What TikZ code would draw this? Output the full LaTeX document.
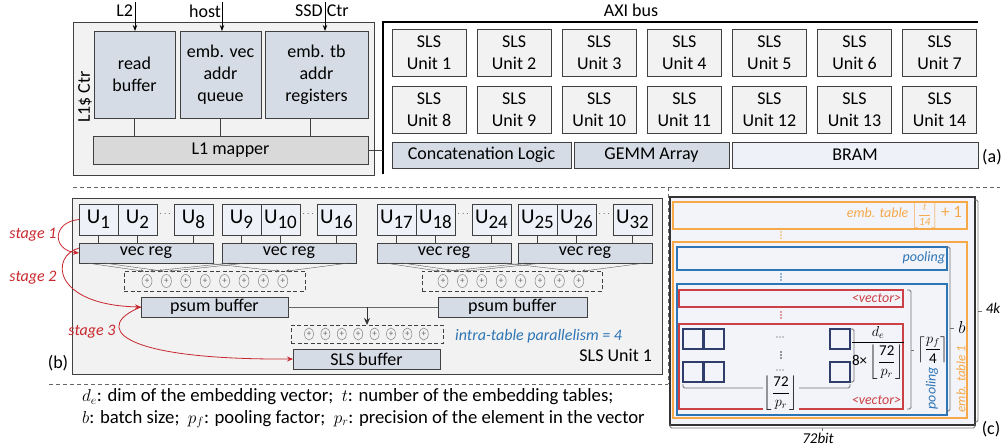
\documentclass[tikz,border=0pt]{standalone}
\usepackage{amsmath}
\usepackage{fontspec}
\setmainfont{Carlito}
\usetikzlibrary{arrows.meta,shapes.geometric,calc}
\definecolor{pgray}{HTML}{F2F2F2}
\definecolor{bgray}{HTML}{D6DCE5}
\definecolor{mgray}{HTML}{D9D9D9}
\definecolor{lblue}{HTML}{EEF1F7}
\definecolor{cfill}{HTML}{F3F4F9}
\definecolor{redc}{HTML}{C8282D}
\definecolor{bluec}{HTML}{2E75B6}
\definecolor{orangec}{HTML}{F5A94A}
\definecolor{redbox}{HTML}{CC4146}
\definecolor{navy}{HTML}{2F3D6B}
\definecolor{edge}{HTML}{404040}
\newcommand\Ulab[1]{{\fontsize{21}{21}\selectfont U}\raisebox{-5pt}{\fontsize{19}{19}\selectfont #1}}
\begin{document}
\begin{tikzpicture}[x=1pt,y=-1pt,
  txt/.style={inner sep=0pt, outer sep=0pt, font=\fontsize{18}{22}\selectfont, align=center},
  blk/.style={draw=edge, line width=1pt, anchor=north west, inner sep=0pt, outer sep=0pt, align=center, font=\fontsize{18}{22}\selectfont},
  dbox/.style={draw=edge, line width=1pt, dash pattern=on 4pt off 2.5pt, anchor=north west, inner sep=0pt, outer sep=0pt},
  addc/.style={ellipse, draw=black!50, line width=0.5pt, minimum width=10pt, minimum height=13pt, inner sep=0pt, font=\fontsize{9}{9}\selectfont, text=black!60},
  saddc/.style={addc, minimum width=9pt, minimum height=12pt},
  conn/.style={draw=edge, line width=0.8pt},
  inarr/.style={draw=black, line width=0.8pt, -{Stealth[length=6pt,width=4.5pt]}},
  fan/.style={draw=black!65, line width=0.4pt, -{Stealth[length=3.5pt,width=3pt]}},
  stagearr/.style={draw=redc, line width=0.8pt, -{Stealth[length=6pt,width=5pt]}},
  stagelbl/.style={text=redc, font=\fontsize{16}{16}\selectfont\itshape, inner sep=0pt},
  sep/.style={draw=black!60, line width=0.9pt, dash pattern=on 4pt off 3pt},
  brk/.style={draw=black!55, line width=0.8pt, rounded corners=1.5pt},
  cbox/.style={line width=1.4pt, anchor=north west, inner sep=0pt, outer sep=0pt},
  ctxt/.style={inner sep=0pt, outer sep=0pt, font=\fontsize{14}{16}\selectfont},
  dotn/.style={inner sep=0pt, outer sep=0pt, font=\fontsize{10}{10}\selectfont},
  sq/.style={draw=navy, line width=1.4pt, minimum size=20pt, anchor=north west, inner sep=0pt, outer sep=0pt}
]
\useasboundingbox (0,0) rectangle (1003,447);

% ---------------- panel (a) ----------------
\node[blk, fill=pgray, minimum width=301pt, minimum height=153pt] (l1ctr) at (73,22) {};
\node[txt, rotate=90] (l1lab) at (85,97) {L1\$ Ctr};
\node[blk, fill=bgray, minimum width=81pt, minimum height=87pt] (rbuf) at (94,31) {read\\buffer};
\node[blk, fill=bgray, minimum width=81pt, minimum height=87pt] (evq) at (180,31) {emb. vec\\addr\\queue};
\node[blk, fill=bgray, minimum width=103pt, minimum height=87pt] (etr) at (265,31) {emb. tb\\addr\\registers};
\node[blk, fill=mgray, minimum width=275pt, minimum height=28pt] (map) at (93,136) {L1 mapper};
\draw[conn] (rbuf.south) -- (rbuf.south |- map.north);
\draw[conn] (evq.south) -- (evq.south |- map.north);
\draw[conn] ($(etr.south)+(-6,0)$) -- ($(etr.south |- map.north)+(-6,0)$);

\coordinate (inL2) at (135,2);
\coordinate (inHost) at (222,2);
\coordinate (inSSD) at (325,2);
\draw[inarr] (inL2) -- (inL2 |- rbuf.north);
\draw[inarr] (inHost) -- (inHost |- evq.north);
\draw[inarr] (inSSD) -- (inSSD |- etr.north);
\node[txt, anchor=east] (labL2) at (133,11) {L2};
\node[txt, anchor=east] (labHost) at (221,11) {host};
\node[txt] (labSSD) at (322,11) {SSD Ctr};

\coordinate (axiB) at (383,174);
\coordinate (axiC) at (383,22);
\coordinate (axiR) at (978,22);
\draw[line width=2.4pt, draw=black] (axiB) -- (axiC) -- (axiR);
\node[txt] (axilab) at (631,10) {AXI bus};
\draw[conn] (map.east) -- (map.east -| axiC);

\foreach \i in {0,...,6}{
  \pgfmathtruncatemacro\na{\i+1}
  \pgfmathtruncatemacro\nb{\i+8}
  \node[blk, fill=pgray, minimum width=74pt, minimum height=47pt] (sls\na) at ({392+85.1*\i},29) {SLS\\Unit \na};
  \node[blk, fill=pgray, minimum width=74pt, minimum height=47pt] (sls\nb) at ({392+85.1*\i},86) {SLS\\Unit \nb};
}
\node[blk, fill=bgray, minimum width=179pt, minimum height=26pt] (concat) at (392,142) {Concatenation Logic};
\node[blk, fill=bgray, minimum width=155pt, minimum height=26pt] (gemm) at (574,142) {GEMM Array};
\node[blk, fill=lblue, minimum width=246pt, minimum height=26pt] (bram) at (732,142) {BRAM};
\node[txt] (alab) at (992,157) {(a)};

% ---------------- separators ----------------
\coordinate (s1a) at (73,187);
\coordinate (s1b) at (1000,187);
\coordinate (s2a) at (668,187);
\coordinate (s2b) at (668,384);
\coordinate (s3a) at (49,384);
\draw[sep] (s1a) -- (s1b);
\draw[sep] (s2a) -- (s2b);
\draw[sep] (s3a) -- (s2b);

% ---------------- panel (b) ----------------
\node[blk, fill=pgray, minimum width=590pt, minimum height=176pt] (bpan) at (72,198) {};
\foreach \s/\a/\b/\c/\g in {79/1/2/8/1, 222/9/10/16/2, 377/17/18/24/3, 518/25/26/32/4}{
  \node[blk, fill=lblue, minimum width=39pt, minimum height=31pt] (u\a) at (\s,204) {\Ulab{\a}};
  \node[blk, fill=lblue, minimum width=39pt, minimum height=31pt] (u\b) at (\s+39,204) {\Ulab{\b}};
  \node[dotn, text=black!70] (ud\g) at (\s+87,214) {$\cdots$};
  \node[blk, fill=lblue, minimum width=39pt, minimum height=31pt] (u\c) at (\s+95,204) {\Ulab{\c}};
  \node[blk, fill=bgray, minimum width=134pt, minimum height=20pt] (vr\g) at (\s,243) {vec reg};
  \draw[conn] (u\a.south) -- (u\a.south |- vr\g.north);
  \draw[conn] (u\b.south) -- (u\b.south |- vr\g.north);
  \draw[conn] (u\c.south) -- (u\c.south |- vr\g.north);
}
\node[dbox, minimum width=181pt, minimum height=20pt] (adA) at (124,271) {};
\node[dbox, minimum width=180pt, minimum height=20pt] (adB) at (422,271) {};
\foreach \k in {1,...,8}{
  \node[addc] (ca\k) at ({147+19.4*(\k-1)},281) {+};
  \node[addc] (cb\k) at ({443+19.4*(\k-1)},281) {+};
}
\foreach \v/\c/\dx/\sx in {vr1/ca1/8/-3, vr1/ca2/25/-3, vr1/ca8/127/-3, vr2/ca1/8/3, vr2/ca2/25/3, vr2/ca8/127/3,
                           vr3/cb1/8/-3, vr3/cb2/25/-3, vr3/cb8/127/-3, vr4/cb1/8/3, vr4/cb2/25/3, vr4/cb8/127/3}{
  \draw[fan] ($(\v.south west)+(\dx,0)$) -- ($(\c.north)+(\sx,-3)$);
}
\node[blk, fill=bgray, minimum width=147pt, minimum height=20pt] (psum1) at (141,297) {psum buffer};
\node[blk, fill=bgray, minimum width=149pt, minimum height=20pt] (psum2) at (438,297) {psum buffer};
\draw[conn, draw=black!60] (psum1.east) -- (psum2.west);
\node[dbox, minimum width=152pt, minimum height=18pt] (sadd) at (291,325) {};
\foreach \k in {1,...,8}{
  \node[saddc] (cs\k) at ({309+16.4*(\k-1)},334) {+};
}
\coordinate (pmid) at (367,307);
\draw[draw=black!80, line width=0.8pt, -{Stealth[length=7pt,width=6pt]}] (pmid) -- (pmid |- sadd.north);
\node[blk, fill=bgray, minimum width=147pt, minimum height=20pt] (sbuf) at (293,349) {SLS buffer};
\node[inner sep=0pt, anchor=west, text=bluec, font=\fontsize{16}{16}\selectfont\itshape] (itp) at (455,336) {intra-table parallelism = 4};
\node[txt, anchor=east] (unitlab) at (652,355) {SLS Unit 1};
\node[txt] (blab) at (58,363) {(b)};

\node[stagelbl] (st1) at (33,235) {stage 1};
\node[stagelbl] (st2) at (33,278) {stage 2};
\node[stagelbl] (st3) at (92,332) {stage 3};
\draw[stagearr] (u1.west) .. controls (52,222) and (52,250) .. (vr1.west);
\draw[stagearr] ($(vr1.west)+(0,-5)$) .. controls (50,256) and (52,305) .. (psum1.west);
\draw[stagearr] (psum1.west) .. controls (95,325) and (110,360) .. (sbuf.west);

% ---------------- legend ----------------
\node[inner sep=0pt, anchor=west, font=\fontsize{18.7}{22}\selectfont] (leg1) at (82,397) {$d_e$: dim of the embedding vector;\ \ $t$: number of the embedding tables;};
\node[inner sep=0pt, anchor=west, font=\fontsize{18.7}{22}\selectfont] (leg2) at (82,419) {$b$: batch size;\ \ $p_f$: pooling factor;\ \ $p_r$: precision of the element in the vector};

% ---------------- panel (c) ----------------
\node[cbox, draw=black!80, line width=1.6pt, fill=cfill, minimum width=305pt, minimum height=228pt] (cpan) at (670,197) {};
\node[cbox, draw=orangec, minimum width=294pt, minimum height=27pt] (etab) at (673,202) {};
\node[ctxt, text=orangec, anchor=east] (etablab) at (962,215) {\itshape emb. table {\fontsize{11}{12}\selectfont$\left\lfloor\dfrac{t}{\mbox{14}}\right\rfloor$} \fontsize{17}{17}\selectfont\upshape + 1};
\node[cbox, draw=orangec, minimum width=294pt, minimum height=176pt] (etab1) at (673,242) {};
\node[cbox, draw=bluec, minimum width=270pt, minimum height=23pt] (pool) at (677,247) {};
\node[ctxt, text=bluec, anchor=east] (poollab) at (945,258) {\itshape pooling};
\node[cbox, draw=bluec, minimum width=270pt, minimum height=131pt] (pool1) at (677,284) {};
\node[cbox, draw=redbox, minimum width=224pt, minimum height=17pt] (vecb) at (679,290) {};
\node[ctxt, text=redbox, anchor=east] (veclab) at (901,298.5) {\itshape <vector>};
\node[cbox, draw=redbox, minimum width=224pt, minimum height=85pt] (vecb1) at (679,324) {};
\node[ctxt, text=redbox, anchor=east] (vec1lab) at (901,400) {\itshape <vector>};
\foreach \y/\col in {235/orangec, 277/bluec, 315/redbox, 355/black!80}{
  \foreach \d in {-3,0,3} \fill[\col] (781,\y+\d) circle (0.8pt);
}
\foreach \y in {337,370}{
  \foreach \d in {-3,0,3} \fill[black!80] (780+\d,\y) circle (0.7pt);
}

\node[sq] (q11) at (683,329) {};
\node[sq] (q12) at (704,329) {};
\node[sq] (q13) at (830,329) {};
\node[sq] (q21) at (683,362) {};
\node[sq] (q22) at (704,362) {};
\node[sq] (q23) at (830,362) {};

\draw[brk] (q21.south west) ++(0,2) -- ++(0,4) -- ($(q23.south east)+(0,6)$) -- ++(0,-4);
\node[ctxt, fill=cfill, inner sep=1pt] (qw) at (781,393) {$\left\lfloor\dfrac{\mbox{\fontsize{15}{15}\selectfont 72}}{p_r}\right\rfloor$};
\draw[brk] ($(q13.north east)+(1,0)$) -- ++(3,0) -- ($(q23.south east)+(4,0)$) -- ++(-3,0);
\node[ctxt] (qh) at (878,353) {$\dfrac{d_e}{\mbox{\fontsize{15}{15}\selectfont 8×}\left\lfloor\dfrac{\mbox{\fontsize{15}{15}\selectfont 72}}{p_r}\right\rfloor}$};

\coordinate (pfT) at (911,290);
\coordinate (pfB) at (911,409);
\draw[brk] ($(pfT)+(-4,0)$) -- (pfT) -- (pfB) -- ($(pfB)+(-4,0)$);
\draw[brk] (911,350) -- (914,350);
\node[ctxt] (pflab) at (933,350) {$\left\lceil\dfrac{p_f}{\mbox{\fontsize{15}{15}\selectfont 4}}\right\rceil$};
\node[ctxt, text=bluec, rotate=90] (poolv) at (932,388) {\itshape pooling};
\node[ctxt, text=orangec, rotate=90, font=\fontsize{13}{15}\selectfont] (etv) at (961,379) {\itshape emb. table 1};

\coordinate (bT) at (950,247);
\coordinate (bB) at (950,411);
\draw[brk] ($(bT)+(-4,0)$) -- (bT) -- (bB) -- ($(bB)+(-4,0)$);
\draw[brk] (950,328) -- (954,328);
\node[ctxt, font=\fontsize{16}{16}\selectfont] (blab2) at (962,327) {$b$};

\coordinate (kT) at (978,200);
\coordinate (kB) at (978,422);
\draw[brk] ($(kT)+(-4,0)$) -- (kT) -- (kB) -- ($(kB)+(-4,0)$);
\draw[brk] (978,311) -- (982,311);
\node[ctxt, font=\fontsize{15}{17}\selectfont] (klab) at (993,308) {\itshape 4k};

\coordinate (wL) at (670,428);
\coordinate (wR) at (975,428);
\draw[brk] ($(wL)+(0,-4)$) -- (wL) -- (wR) -- ($(wR)+(0,-4)$);
\draw[brk] (822,428) -- (822,431);
\node[ctxt, font=\fontsize{15}{17}\selectfont] (wlab) at (818,438) {\itshape 72bit};
\node[txt] (clab) at (991,429) {(c)};
\end{tikzpicture}
\end{document}
